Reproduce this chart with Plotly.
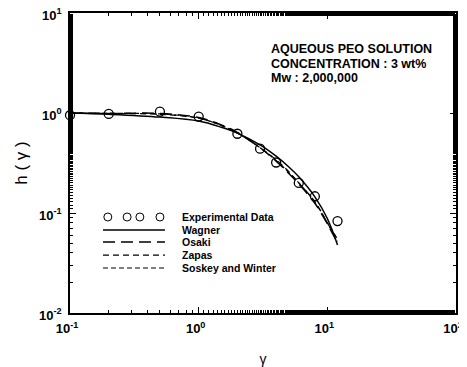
import plotly.graph_objects as go

# Experimental data
exp_x = [0.1, 0.2, 0.5, 1.0, 2.0, 3.0, 4.0, 6.0, 8.0, 12.0]
exp_y = [0.95, 0.98, 1.03, 0.92, 0.62, 0.44, 0.32, 0.20, 0.147, 0.083]

# Model curves
model_x = [0.1, 0.2, 0.5, 1.0, 1.5, 2.0, 3.0, 4.0, 5.0, 6.0, 8.0, 10.0, 12.0]
wagner_y = [1.0, 0.97, 0.91, 0.83, 0.72, 0.63, 0.48, 0.37, 0.29, 0.23, 0.145, 0.088, 0.048]
osaki_y = [1.0, 0.99, 0.99, 0.90, 0.76, 0.64, 0.45, 0.33, 0.25, 0.195, 0.125, 0.078, 0.05]
zapas_y = [1.0, 0.99, 0.97, 0.89, 0.75, 0.63, 0.45, 0.34, 0.26, 0.20, 0.13, 0.08, 0.052]
soskey_y = [1.0, 0.99, 0.98, 0.89, 0.75, 0.63, 0.45, 0.335, 0.255, 0.2, 0.128, 0.08, 0.055]

# Tick labels
x_tickvals = [0.1, 1, 10, 100]
x_ticktext = ["<b>10<sup>-1</sup></b>", "<b>10<sup>0</sup></b>", "<b>10<sup>1</sup></b>", "<b>10<sup>2</sup></b>"]
y_tickvals = [0.01, 0.1, 1, 10]
y_ticktext = ["<b>10<sup>-2</sup></b>", "<b>10<sup>-1</sup></b>", "<b>10<sup>0</sup></b>", "<b>10<sup>1</sup></b>"]

legend_names = ["Experimental Data", "Wagner", "Osaki", "Zapas", "Soskey and Winter"]
info_lines = ["AQUEOUS PEO SOLUTION", "CONCENTRATION : 3 wt%", "Mw : 2,000,000"]

styles = [
    None,
    dict(color="black", width=1.5),
    dict(color="black", width=1.5, dash="12px,6px"),
    dict(color="black", width=1.2, dash="6px,4px"),
    dict(color="black", width=1.2, dash="5px,3px"),
]
series = [wagner_y, osaki_y, zapas_y, soskey_y]

fig = go.Figure()
fig.add_trace(go.Scatter(x=exp_x, y=exp_y, mode="markers", name=legend_names[0], showlegend=False,
                         cliponaxis=False,
                         marker=dict(symbol="circle-open", size=9, color="black", line=dict(width=1.3))))
for name, ys, st in zip(legend_names[1:], series, styles[1:]):
    fig.add_trace(go.Scatter(x=model_x, y=ys, mode="lines", name=name, showlegend=False,
                             line=dict(shape="spline", **st)))

# Custom legend (paper coordinates)
row_y = [0.32, 0.277, 0.237, 0.193, 0.15]
lx0, lx1, tx = 0.0855, 0.246, 0.285
for cx in [0.098, 0.148, 0.181, 0.233]:
    fig.add_shape(type="circle", xref="paper", yref="paper", xsizemode="pixel", ysizemode="pixel",
                  xanchor=cx, yanchor=row_y[0], x0=-4, x1=4, y0=-4, y1=4,
                  line=dict(color="black", width=1))
for ry, st in zip(row_y[1:], styles[1:]):
    fig.add_shape(type="line", xref="paper", yref="paper", x0=lx0, x1=lx1, y0=ry, y1=ry,
                  line=st)
for ry, name in zip(row_y, legend_names):
    fig.add_annotation(xref="paper", yref="paper", x=tx, y=ry, xanchor="left", yanchor="middle",
                       showarrow=False, text="<b>" + name + "</b>",
                       font=dict(family="Arial", size=10.5, color="black"))

# Info text block
for ry, line in zip([0.88, 0.83, 0.783], info_lines):
    fig.add_annotation(xref="paper", yref="paper", x=0.515, y=ry, xanchor="left", yanchor="middle",
                       showarrow=False, text="<b>" + line + "</b>",
                       font=dict(family="Arial", size=12.5, color="black"))

axis_common = dict(type="log", showline=True, linecolor="black", linewidth=1.5, mirror="ticks",
                   ticks="inside", ticklen=6, tickcolor="black", showgrid=False, zeroline=False,
                   automargin=False, ticklabeloverflow="allow",
                   tickfont=dict(family="Arial", size=13, color="black"),
                   minor=dict(ticks="inside", ticklen=3, tickcolor="black", showgrid=False))

fig.update_xaxes(range=[-1, 2], tickvals=x_tickvals, ticktext=x_ticktext, ticklabelstandoff=3,
                 ticklabelshift=-3,
                 title=dict(text="γ", font=dict(family="Arial", size=14, color="black"), standoff=22),
                 **axis_common)
fig.update_yaxes(range=[-2, 1], tickvals=y_tickvals, ticktext=y_ticktext, ticklabelstandoff=4,
                 ticklabelshift=2,
                 title=dict(text="h ( γ )", font=dict(family="Arial", size=17, color="black"), standoff=7),
                 **axis_common)

# The page body has an 8px margin; margins are set so the plot area lands where the reference has it.
fig.update_layout(
    width=467, height=359,
    margin=dict(l=62, r=19, t=5, b=54),
    paper_bgcolor="white", plot_bgcolor="white",
    showlegend=False,
)

fig.write_html("out.html")
